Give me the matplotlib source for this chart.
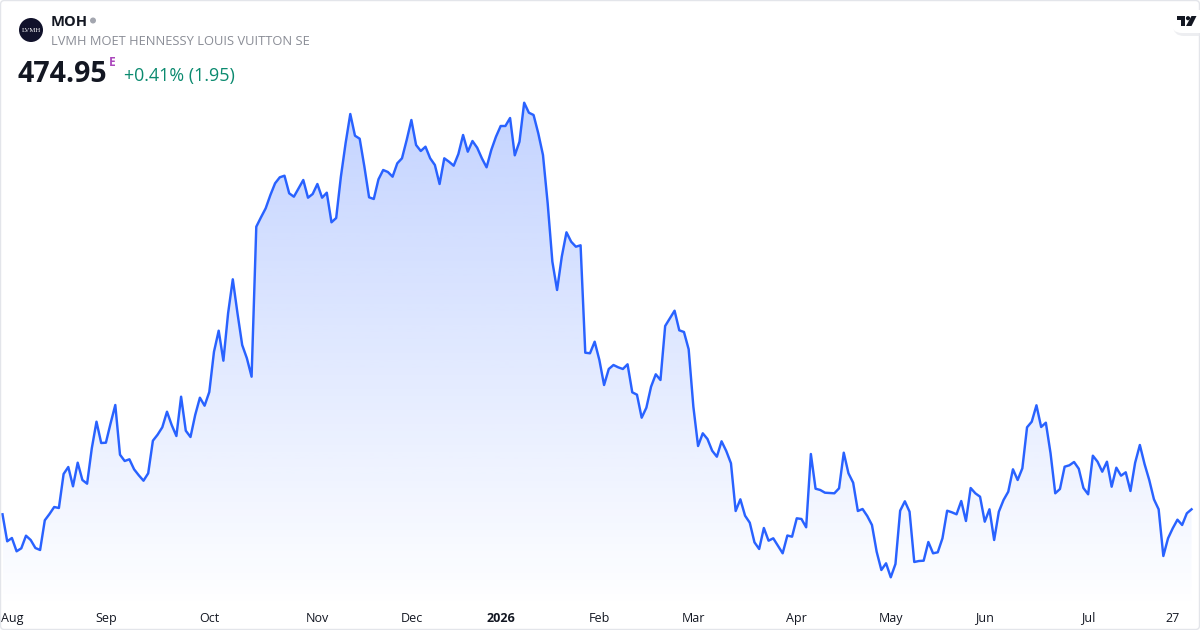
# -*- coding: utf-8 -*-
"""Area chart of the MOH daily close, one year up to 27 Jul 2026."""
import numpy as np
import matplotlib
matplotlib.use("Agg")
import matplotlib.pyplot as plt
from matplotlib.patches import Circle, FancyBboxPatch, Polygon

plt.rcParams["font.family"] = ["Open Sans", "Noto Sans", "DejaVu Sans"]

closes = [
    472.45, 458.95, 460.6, 453.95, 455.45, 461.75, 459.6, 455.6, 454.6, 469.45,
    472.6, 476.1, 475.6, 492.6, 496.1, 486.45, 498.25, 489.6, 487.75, 505.45,
    518.75, 508.1, 508.25, 517.95, 527.1, 502.25, 499.1, 499.95, 494.95, 491.95,
    489.25, 492.95, 509.25, 512.25, 515.95, 523.75, 517.1, 511.6, 531.25, 514.25,
    511.1, 522.1, 530.75, 526.75, 533.6, 553.75, 564.25, 549.25, 572.95, 589.95,
    572.95, 557.1, 550.45, 541.25, 616.25, 620.95, 625.45, 632.1, 637.95, 640.95,
    641.75, 632.95, 631.25, 635.45, 639.6, 630.75, 632.6, 637.6, 630.75, 633.25,
    618.45, 620.6, 641.25, 657.95, 672.6, 661.75, 660.25, 646.25, 630.95, 630.1,
    639.95, 644.6, 643.6, 641.25, 647.95, 650.45, 659.6, 669.6, 657.1, 654.1,
    656.25, 650.45, 647.1, 637.6, 650.45, 648.75, 646.75, 652.6, 662.1, 653.75,
    659.1, 655.75, 650.45, 645.95, 654.6, 661.25, 666.6, 666.6, 670.6, 651.95,
    658.75, 678.25, 673.25, 672.1, 662.95, 652.1, 627.95, 598.75, 584.6, 601.25,
    613.45, 608.75, 606.25, 606.95, 553.25, 552.95, 558.75, 549.6, 537.1, 545.1,
    547.1, 545.95, 545.1, 547.45, 533.45, 532.25, 520.75, 525.75, 536.25, 542.45,
    539.6, 566.6, 570.45, 574.25, 564.45, 563.6, 554.95, 526.25, 506.6, 512.95,
    510.1, 504.25, 501.25, 508.95, 504.1, 497.95, 474.1, 479.95, 471.75, 468.25,
    458.45, 455.1, 465.6, 459.25, 460.45, 456.75, 452.95, 461.85, 461.25, 470.45,
    470.1, 465.95, 502.6, 485.25, 484.6, 483.25, 483.1, 482.95, 485.45, 503.25,
    492.95, 488.25, 474.1, 475.1, 471.6, 467.1, 453.75, 444.6, 447.95, 440.95,
    447.6, 474.25, 478.95, 473.75, 448.6, 449.1, 449.25, 458.6, 452.95, 453.45,
    460.45, 474.25, 473.45, 472.45, 479.1, 469.1, 485.6, 482.95, 481.25, 468.75,
    474.95, 459.6, 473.75, 479.6, 483.75, 494.95, 489.6, 495.45, 515.95, 518.75,
    526.95, 516.1, 518.25, 502.95, 482.95, 485.1, 496.25, 496.95, 498.6, 495.25,
    485.6, 482.45, 501.75, 498.75, 493.75, 498.75, 486.25, 495.75, 491.75, 493.45,
    484.1, 498.25, 507.1, 497.6, 489.6, 479.95, 474.95, 451.6, 460.45, 465.45,
    469.75, 467.1, 472.95, 474.95,
]
tick_bars = [2, 22, 44, 67, 87, 106, 127, 147, 169, 189, 209, 231, 249]
tick_labels = ["Aug", "Sep", "Oct", "Nov", "Dec", "2026", "Feb", "Mar", "Apr", "May", "Jun", "Jul", "27"]

ticker = "MOH"
company = "LVMH MOET HENNESSY LOUIS VUITTON SE"
last_price = "474.95"
change = "+0.41% (1.95)"

LINE = "#2962FF"
TEXT = "#131722"

fig = plt.figure(figsize=(12, 6.3), dpi=100, facecolor="white")
ax = fig.add_axes([0, 0, 1, 1])
ax.set_facecolor("none")
for spine in ax.spines.values():
    spine.set_visible(False)

bars = np.arange(len(closes))

# gradient under the line, clipped to the area below the closes
fade_top, fade_bottom = max(closes), 425.0
alpha = np.linspace(0.28, 0.0, 256).reshape(-1, 1)
rgba = np.zeros((256, 1, 4))
rgba[..., :3] = matplotlib.colors.to_rgb(LINE)
rgba[..., 3] = alpha
img = ax.imshow(rgba, extent=(bars[0], bars[-1], fade_bottom, fade_top), origin="upper",
                aspect="auto", interpolation="bilinear", zorder=1)
area = ax.fill_between(bars, closes, fade_bottom, facecolor="none", edgecolor="none")
img.set_clip_path(area.get_paths()[0], transform=ax.transData)

ax.plot(bars, closes, color=LINE, lw=1.75, solid_joinstyle="round", zorder=2)

ax.set_xlim(-0.532, 254.8)
ax.set_ylim(414.6, 729.6)
ax.set_yticks([])
ax.set_xticks(tick_bars)
ax.set_xticklabels(tick_labels, fontsize=9, color=TEXT)
ax.tick_params(axis="x", length=0, pad=-13.3)
for label in ax.get_xticklabels():
    label.set_zorder(5)
    if label.get_text() == "2026":
        label.set_fontweight("bold")

# header, frame and logos are laid out in screen pixels
chrome = fig.add_axes([0, 0, 1, 1], facecolor="none")
chrome.set_xlim(0, 1200)
chrome.set_ylim(630, 0)
chrome.axis("off")

chrome.add_patch(FancyBboxPatch((0.5, 0.5), 1199, 629, boxstyle="round,pad=0,rounding_size=4",
                                fc="none", ec="#E3E5EA", lw=1.0))

chrome.add_patch(Circle((31, 30), 12, fc="#11122B", ec="none"))
chrome.text(31, 30.5, "LVMH", color="white", fontsize=4.9, family=["Liberation Serif", "DejaVu Serif"],
            ha="center", va="center")
chrome.text(51, 22, ticker, color=TEXT, fontsize=10.6, fontweight="bold", va="center")
chrome.add_patch(Circle((93, 20.5), 3, fc="#A3A6AF", ec="none"))
chrome.text(51, 41.5, company, color="#8A8D96", fontsize=9.3, va="center")
chrome.text(18, 74, last_price, color=TEXT, fontsize=20.5, fontweight="bold", va="center")
chrome.text(108.5, 62, "E", color="#AB47BC", fontsize=8.6, fontweight="bold", ha="left", va="center")
chrome.text(124, 76, change, color="#0B8A6F", fontsize=12.9, va="center")

# TradingView badge in the top right corner
chrome.add_patch(FancyBboxPatch((1173, 13), 40, 23, boxstyle="round,pad=0,rounding_size=11",
                                fc="#E9EAEE", ec="none", alpha=0.8, clip_on=True))
chrome.add_patch(FancyBboxPatch((1171, 10), 40, 23, boxstyle="round,pad=0,rounding_size=11",
                                fc="white", ec="none", clip_on=True))
for pts in ([(1177, 16), (1185, 16), (1185, 26), (1181, 26), (1181, 20), (1177, 20)],
            [(1191.5, 16), (1196.5, 16), (1191.5, 26), (1186, 26)]):
    chrome.add_patch(Polygon(pts, closed=True, fc="#131722", ec="none"))
chrome.add_patch(Circle((1188, 18.2), 2.1, fc="#131722", ec="none"))

fig.savefig("out.png", dpi=100, facecolor="white")
